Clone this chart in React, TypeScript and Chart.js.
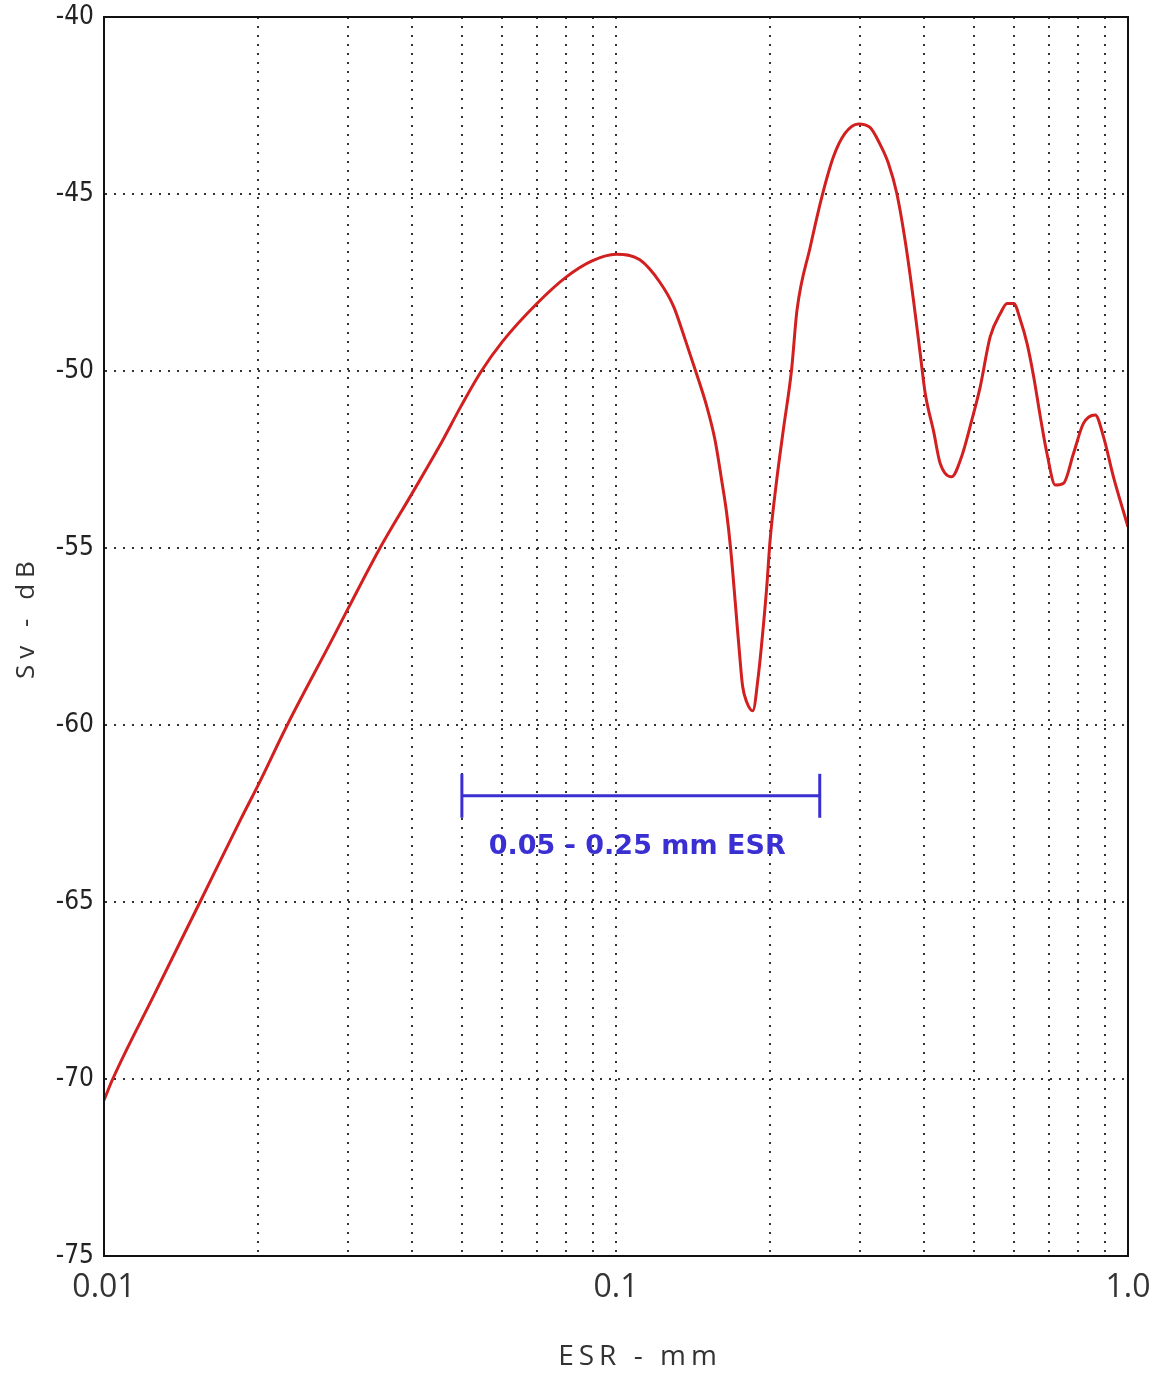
import React, { useEffect, useRef } from "react";
import { Chart, registerables } from "chart.js";

Chart.register(...registerables);

// ---- data ----
const esr = [
  0.01, 0.0104, 0.0125, 0.0154, 0.0185, 0.02, 0.0228, 0.028, 0.03, 0.0346,
  0.04, 0.0453, 0.05, 0.0546, 0.06, 0.07, 0.08, 0.09, 0.1, 0.1113,
  0.1219, 0.1296, 0.1364, 0.1438, 0.1504, 0.1561, 0.1608, 0.1645, 0.1674, 0.1741,
  0.1767, 0.18, 0.185, 0.1897, 0.1934, 0.197, 0.2, 0.206, 0.2122, 0.2203,
  0.2256, 0.2396, 0.2524, 0.2659, 0.28, 0.2974, 0.3134, 0.328, 0.3404, 0.3535,
  0.3669, 0.3811, 0.3927, 0.4017, 0.4171, 0.4297, 0.4521, 0.4731, 0.4955, 0.5146,
  0.5381, 0.5634, 0.5805, 0.5981, 0.6163, 0.635, 0.6543, 0.6741, 0.6946, 0.721,
  0.7484, 0.7826, 0.8184, 0.8629, 0.8958, 0.9366, 1.0,
];
const sv = [
  -70.6, -70.0, -67.65, -65.0, -62.66, -61.7, -60.0, -57.54, -56.7, -55.0,
  -53.45, -52.1, -50.95, -50.0, -49.17, -48.1, -47.34, -46.88, -46.7, -46.86,
  -47.5, -48.18, -49.1, -50.1, -51.0, -51.95, -53.08, -54.02, -55.0, -57.9,
  -58.9, -59.35, -59.6, -58.6, -57.41, -56.09, -54.77, -53.08, -51.67, -49.95,
  -48.3, -46.49, -45.08, -43.95, -43.29, -43.02, -43.12, -43.6, -44.13, -44.98,
  -46.3, -48.0, -49.5, -50.63, -51.7, -52.61, -52.99, -52.42, -51.38, -50.44,
  -49.03, -48.37, -48.09, -48.09, -48.56, -49.22, -50.16, -51.29, -52.33, -53.22,
  -53.17, -52.33, -51.48, -51.24, -51.86, -52.99, -54.4,
];

// range bar annotation
const bandEsr = [0.05, 0.25];
const bandSv = [-62, -62];
const bandLabel = "0.05 - 0.25 mm ESR";
const bandLabelAt = [0.11, -63.45];

// axes
const xGridValues = [
  0.01, 0.02, 0.03, 0.04, 0.05, 0.06, 0.07, 0.08, 0.09,
  0.1, 0.2, 0.3, 0.4, 0.5, 0.6, 0.7, 0.8, 0.9, 1.0,
];
const xLabelValues = [0.01, 0.1, 1.0];
const xLabelTexts = ["0.01", "0.1", "1.0"];
const yMin = -75;
const yMax = -40;
const yStep = 5;
const xTitle = "ESR - mm";
const yTitle = "Sv - dB";

const RED = "#d21f1f";
const BLUE = "#3a2fd2";

export default function App() {
  const ref = useRef<HTMLCanvasElement | null>(null);

  useEffect(() => {
    const canvas = ref.current;
    if (!canvas) return;

    const framePlugin = {
      id: "frame",
      afterDatasetsDraw(chart: any) {
        const { ctx, scales } = chart;
        ctx.save();
        ctx.fillStyle = BLUE;
        ctx.font = "bold 27px 'DejaVu Sans', sans-serif";
        ctx.textAlign = "center";
        ctx.textBaseline = "middle";
        ctx.fillText(
          bandLabel,
          scales.x.getPixelForValue(bandLabelAt[0]),
          scales.y.getPixelForValue(bandLabelAt[1])
        );
        ctx.restore();
      },
      afterDraw(chart: any) {
        const { ctx, chartArea } = chart;
        ctx.save();
        ctx.strokeStyle = "#111";
        ctx.lineWidth = 2;
        ctx.strokeRect(
          chartArea.left,
          chartArea.top,
          chartArea.right - chartArea.left,
          chartArea.bottom - chartArea.top
        );
        ctx.fillStyle = "#333";
        ctx.textAlign = "center";
        ctx.textBaseline = "middle";
        (ctx as any).letterSpacing = "5px";
        ctx.font = "28px 'Open Sans', sans-serif";
        ctx.fillText(xTitle, 640, 1357);
        ctx.translate(27, 617);
        ctx.rotate(-Math.PI / 2);
        (ctx as any).letterSpacing = "6px";
        ctx.font = "26px 'Open Sans', sans-serif";
        ctx.fillText(yTitle, 0, 0);
        ctx.restore();
      },
    };

    const chart = new Chart(canvas, {
      type: "line",
      data: {
        datasets: [
          {
            data: esr.map((x, i) => ({ x, y: sv[i] })),
            borderColor: RED,
            borderWidth: 3,
            pointRadius: 0,
            cubicInterpolationMode: "monotone",
            fill: false,
          },
          {
            data: bandEsr.map((x, i) => ({ x, y: bandSv[i] })),
            borderColor: BLUE,
            borderWidth: 3,
            pointStyle: "line",
            pointRadius: 22,
            pointRotation: 90,
            pointBorderWidth: 3,
            pointBorderColor: BLUE,
            pointBackgroundColor: BLUE,
            fill: false,
          },
        ],
      },
      options: {
        responsive: false,
        animation: false,
        events: [],
        layout: { autoPadding: false, padding: { top: 17, right: 39, left: 0, bottom: 0 } },
        plugins: { legend: { display: false }, tooltip: { enabled: false } },
        scales: {
          x: {
            type: "logarithmic",
            min: 0.01,
            max: 1.0,
            afterBuildTicks: (scale: any) => {
              scale.ticks = xGridValues.map((v) => ({ value: v }));
            },
            afterFit: (scale: any) => {
              scale.height = 122;
              scale.paddingLeft = 0;
              scale.paddingRight = 0;
            },
            grid: { color: "#333", lineWidth: 2, drawTicks: false },
            border: { display: true, color: "#111", width: 2, dash: [2, 7] },
            ticks: {
              autoSkip: false,
              maxRotation: 0,
              padding: 13,
              color: "#333",
              font: { family: "'Open Sans', sans-serif", size: 32 },
              callback: (value: any) => {
                const v = Number(value);
                const idx = xLabelValues.findIndex(
                  (lv) => Math.abs(Math.log10(lv) - Math.log10(v)) < 1e-6
                );
                return idx >= 0 ? xLabelTexts[idx] : "";
              },
            },
          },
          y: {
            type: "linear",
            min: yMin,
            max: yMax,
            afterFit: (scale: any) => {
              scale.width = 104;
              scale.paddingTop = 0;
              scale.paddingBottom = 0;
            },
            grid: { color: "#333", lineWidth: 2, drawTicks: false },
            border: { display: true, color: "#111", width: 2, dash: [2, 7] },
            ticks: {
              stepSize: yStep,
              padding: 10,
              color: "#222",
              font: {
                family: "'Liberation Sans Narrow', 'DejaVu Sans Condensed', sans-serif",
                size: 26,
              },
              callback: (value: any) => String(value),
            },
          },
        },
      },
      plugins: [framePlugin],
    } as any);

    return () => chart.destroy();
  }, []);

  return (
    <div style={{ position: "fixed", left: 0, top: 0, width: 1167, height: 1378, background: "#fff" }}>
      <canvas ref={ref} width={1167} height={1378} style={{ width: 1167, height: 1378, display: "block" }} />
    </div>
  );
}
